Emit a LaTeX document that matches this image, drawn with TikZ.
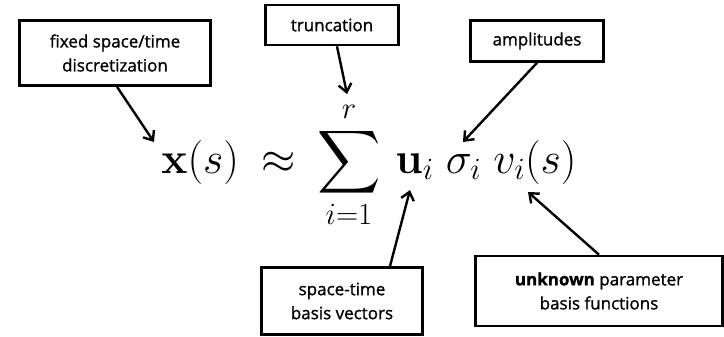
\RequirePackage{fix-cm}
\documentclass[tikz,border=0pt]{standalone}
\usepackage{amsmath}
\DeclareFontFamily{OMX}{cmex}{}
\DeclareFontShape{OMX}{cmex}{m}{n}{<-> cmex10}{}
\usepackage[no-math]{fontspec}
\setmainfont{Open Sans}[FakeBold=1.2]
\usetikzlibrary{arrows.meta}
\tikzset{
  lbl/.style={draw, line width=2.6pt, align=center, inner sep=0pt, font=\fontsize{17}{24}\selectfont},
  arr/.style={line width=2.4pt, -{Straight Barb[length=8pt,width=13pt,line width=2.4pt]}},
}
\begin{document}
\begin{tikzpicture}[x=1pt,y=-1pt]
\useasboundingbox (0,0) rectangle (724,337);
\node[lbl, minimum width=191pt, minimum height=65pt] (fix) at (115,53) {fixed space/time\\discretization};
\node[lbl, minimum width=133pt, minimum height=40pt] (trunc) at (332,25) {truncation};
\node[lbl, minimum width=133pt, minimum height=41pt] (amp) at (537,41) {amplitudes};
\node[lbl, minimum width=161pt, minimum height=67pt] (stb) at (342,301) {space-time\\basis vectors};
\node[lbl, minimum width=247pt, minimum height=70pt] (unk) at (599,291) {{\bfseries unknown} parameter\\basis functions};
\node[inner sep=0pt, anchor=base, font=\fontsize{44}{48}\selectfont] (eq) at (369,173)
  {$\displaystyle \mathbf{x}(s)\mkern4mu\approx\mkern4mu\sum_{i=1}^{r}\,\mathbf{u}_i\;\sigma_i\;v_i(s)$};
\coordinate (tx) at (154,142);
\coordinate (tr) at (347,94);
\coordinate (ta) at (463,142);
\coordinate (tu) at (410,190);
\coordinate (tv) at (528,192);
\draw[arr] (fix.south) ++(2,0) coordinate (fs) -- (tx);
\draw[arr] (trunc.south) ++(5,0) coordinate (ts) -- (tr);
\draw[arr] (amp.south) -- (ta);
\draw[arr] (stb.north) ++(48,0) coordinate (sn) -- (tu);
\draw[arr] (unk.north) -- (tv);
\end{tikzpicture}
\end{document}
